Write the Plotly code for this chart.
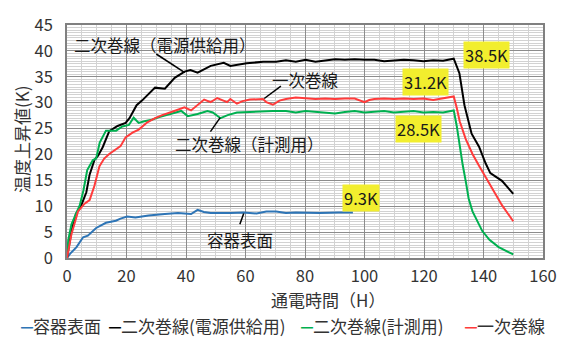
import plotly.graph_objects as go

# ---- measured temperature rise (K) versus energising time (h) ----
t_case = [0, 1, 3.2, 5.4, 7, 9.8, 13.1, 16.4, 18, 20.2, 23, 27.4, 32.9, 37.3, 41.7,
          43.9, 46, 48.3, 55, 59.3, 63.7, 67, 70.3, 73.6, 76.9, 80.2, 85, 91.2, 96.1]
v_case = [0, 0.8, 2.1, 4.0, 4.3, 5.8, 6.8, 7.2, 7.6, 8.0, 7.8, 8.2, 8.5, 8.7, 8.5,
          9.3, 8.9, 8.7, 8.7, 8.8, 8.6, 9.0, 9.0, 8.7, 8.8, 8.7, 8.7, 8.8, 8.8]

t_sec_power = [0, 1.5, 3, 4.8, 6.5, 7.6, 9.2, 10.5, 12, 14.2, 17, 19.7, 21, 23.4, 25.2,
               27.5, 29.6, 32.9, 36.2, 39.5, 41.5, 43.9, 48.3, 52.7, 54.9, 60.4, 65.9,
               70.3, 73.6, 76.9, 80.2, 83.5, 86.8, 90.1, 93.4, 96.7, 100, 103.3, 106.6,
               109.9, 113.2, 116.5, 119.8, 123.1, 126.4, 130, 131.9, 133.6, 136, 138.5,
               140.7, 142.3, 146.2, 150]
v_sec_power = [0, 5.2, 8.5, 10.2, 12.7, 16.1, 18.9, 19.8, 21.4, 24.5, 25.5, 26.1, 27.0,
               29.5, 30.4, 31.8, 32.9, 32.7, 34.8, 36.0, 36.3, 35.8, 37.1, 37.7, 37.1,
               37.6, 37.9, 37.9, 38.2, 37.9, 38.3, 37.9, 38.2, 38.4, 38.3, 38.4, 38.3,
               38.3, 38.0, 38.1, 38.3, 38.2, 38.0, 38.2, 38.1, 38.5, 35.7, 29.5, 24.0,
               21.5, 18.3, 16.4, 14.9, 12.4]

t_sec_meas = [0, 0.4, 1.5, 4.3, 5.5, 6.8, 8.7, 9.8, 11, 13.1, 15.3, 16.5, 18.6, 20.8,
              22.4, 24.1, 26, 28.5, 31, 35.1, 38.4, 40.6, 43.9, 47.2, 49, 51.6, 54,
              57.1, 60.4, 63.7, 67, 69.2, 73.6, 76.9, 80.2, 83.5, 86.8, 90.1, 93.4,
              96.7, 100, 103.3, 106.6, 109.9, 113.2, 116.5, 119.8, 123.1, 126.4, 130,
              131, 131.9, 133, 134.1, 135, 136.3, 137.5, 139.6, 142, 145.1, 150]
v_sec_meas = [0, 3.4, 6.5, 10.2, 13.0, 17.0, 18.9, 19.2, 22.3, 24.6, 24.6, 24.6, 25.4,
              25.7, 27.1, 26.1, 26.4, 26.7, 27.2, 27.9, 28.4, 27.4, 27.8, 28.4, 28.1,
              27.0, 27.6, 28.1, 28.2, 28.2, 28.3, 28.4, 28.4, 28.1, 28.4, 28.2, 28.1,
              27.9, 28.2, 28.4, 28.1, 28.2, 28.4, 28.1, 28.2, 28.4, 28.1, 28.2, 28.1,
              28.5, 25.5, 22.0, 18.0, 14.6, 11.5, 9.0, 7.5, 5.2, 3.5, 2.1, 0.7]

t_primary = [0, 1.5, 3.7, 5.9, 7.6, 9.2, 10.9, 12.5, 14.2, 16, 18, 19.7, 22, 24.1, 27,
             29.6, 32, 35.1, 37.5, 39.5, 41.7, 43.9, 46.1, 48.3, 50.5, 53.8, 54.9, 57.1,
             59, 61.5, 65.9, 67, 69.2, 71.4, 73.6, 76.9, 80.2, 83.5, 86.8, 90.1, 93.4,
             96.7, 100, 101.6, 103.3, 106.6, 109.9, 113.2, 116.5, 119.8, 123.1, 126.4,
             130, 131, 132, 134, 136.3, 138.5, 141.8, 146.2, 150]
v_primary = [0, 4.6, 9.0, 10.5, 11.2, 13.9, 17.7, 19.2, 20.1, 20.8, 21.6, 23.3, 24.2,
             24.8, 26.2, 27.0, 27.6, 28.2, 28.7, 29.1, 28.5, 29.6, 30.6, 30.1, 30.9,
             30.1, 30.7, 29.8, 30.3, 30.6, 30.7, 30.1, 29.6, 30.4, 30.7, 31.0, 30.8,
             30.7, 30.8, 30.7, 30.8, 30.8, 30.1, 30.5, 30.7, 30.8, 30.7, 30.8, 30.7,
             30.8, 30.5, 30.8, 31.2, 29.0, 26.4, 23.0, 20.1, 17.8, 14.6, 10.2, 7.1]

x_ticks = [0, 20, 40, 60, 80, 100, 120, 140, 160]
y_ticks = [0, 5, 10, 15, 20, 25, 30, 35, 40, 45]

names = ["容器表面", "二次巻線(電源供給用)", "二次巻線(計測用)", "一次巻線"]
colors = ["#2E75B6", "#000000", "#00B050", "#FF3B3B"]
series = [(t_case, v_case), (t_sec_power, v_sec_power),
          (t_sec_meas, v_sec_meas), (t_primary, v_primary)]

FONT = "Noto Sans CJK JP"

fig = go.Figure()
for name, col, (tx, vy) in zip(names, colors, series):
    fig.add_trace(go.Scatter(x=tx, y=vy, mode="lines", name=name,
                             line=dict(color=col, width=2), showlegend=False))

# callout text for each curve with a thin leader line
callouts = [
    ("二次巻線（電源供給用）", 33.0, 41.2, (30.0, 39.4, 39.6, 35.8)),
    ("一次巻線", 80.2, 34.3, (71.9, 33.2, 66.3, 30.8)),
    ("二次巻線（計測用）", 61.5, 22.0, (48.2, 24.4, 51.5, 27.1)),
    ("容器表面", 58.1, 3.4, (58.1, 6.5, 59.4, 8.6)),
]
for text, tx, ty, (x0, y0, x1, y1) in callouts:
    fig.add_annotation(x=tx, y=ty, text=text, showarrow=False,
                       xanchor="center", yanchor="middle",
                       font=dict(family=FONT, size=16.5, color="#1a1a1a"))
    fig.add_shape(type="line", x0=x0, y0=y0, x1=x1, y1=y1,
                  line=dict(color="#000000", width=1.5))

# highlighted peak values, text taken from the series maxima
peak_pos = [(98.7, 11.6), (140.9, 39.2), (118.2, 25.0), (120.5, 34.0)]
for (tx, vy), (px, py) in zip(series, peak_pos):
    fig.add_annotation(x=px, y=py, text=f"{max(vy):.1f}K", showarrow=False,
                       xanchor="center", yanchor="middle",
                       bgcolor="#F2EE2E", borderpad=1,
                       font=dict(family=FONT, size=16.5, color="#1a1a1a"))

# axis titles
fig.add_annotation(x=-0.097, y=0.51, xref="paper", yref="paper", text="温度上昇値(K)",
                   textangle=-90, showarrow=False, xanchor="center", yanchor="middle",
                   font=dict(family=FONT, size=17, color="#333333"))
fig.add_annotation(x=0.548, y=-0.18, xref="paper", yref="paper", text="通電時間（H）",
                   showarrow=False, xanchor="center", yanchor="middle",
                   font=dict(family=FONT, size=17, color="#333333"))

# series key below the axis, one entry per series
key_left = [-0.101, 0.084, 0.488, 0.832]
for n, c, kx in zip(names, colors, key_left):
    fig.add_annotation(x=kx, y=-0.29, xref="paper", yref="paper", xanchor="left",
                       yanchor="middle", showarrow=False,
                       text=f"<span style='color:{c};font-size:12px'><b>━</b></span>{n}",
                       font=dict(family=FONT, size=17, color="#333333"))

fig.update_xaxes(range=[0, 160], tickvals=x_ticks, showgrid=True, gridcolor="#8c8c8c",
                 gridwidth=1, minor=dict(dtick=5, showgrid=True, gridcolor="#d2d2d2"),
                 showline=True, linecolor="#808080", linewidth=1.5, mirror=True,
                 zeroline=False, ticks="", ticklabelstandoff=2,
                 tickfont=dict(family=FONT, size=16.5, color="#333333"))
fig.update_yaxes(range=[0, 45], tickvals=y_ticks, showgrid=True, gridcolor="#8c8c8c",
                 gridwidth=1, minor=dict(dtick=0.5, showgrid=True, gridcolor="#d2d2d2"),
                 showline=True, linecolor="#808080", linewidth=1.5, mirror=True,
                 zeroline=False, ticks="", ticklabelstandoff=9,
                 tickfont=dict(family=FONT, size=16.5, color="#333333"))

fig.update_layout(width=569, height=340, margin=dict(l=67, r=17, t=17, b=82),
                  plot_bgcolor="white", paper_bgcolor="white",
                  font=dict(family=FONT))

fig.write_html("out.html")
